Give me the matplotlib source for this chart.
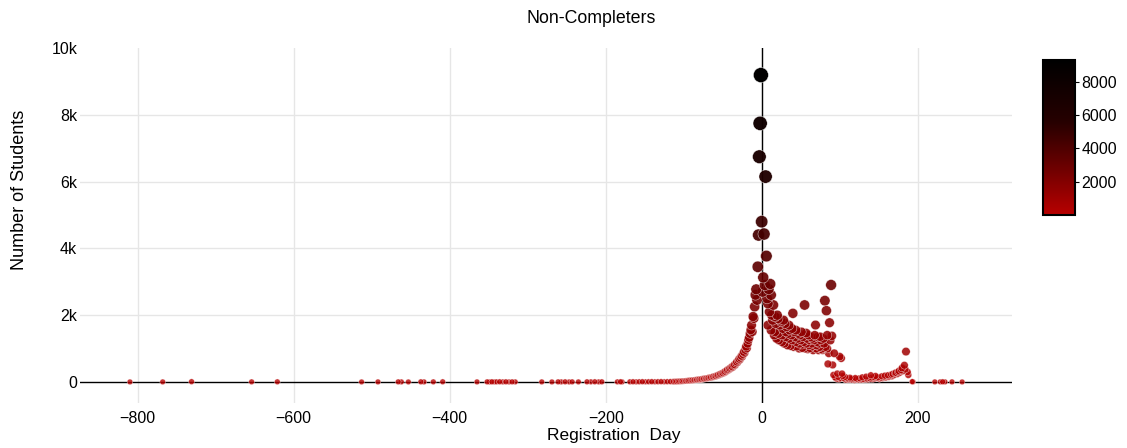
import numpy as np
import matplotlib
matplotlib.use("Agg")
import matplotlib.pyplot as plt
from matplotlib.colors import LinearSegmentedColormap, Normalize

plt.rcParams["font.family"] = ["Liberation Sans", "DejaVu Sans"]

# registration day vs number of non-completing students
far_days = [-810, -768, -731, -654, -621, -513, -492, -466, -462, -453, -437, -433,
            -421, -409, -365, -352, -349, -346, -343, -340, -336, -332, -328, -324,
            -320, -316, -282, -269, -261, -257, -252, -247, -243, -235, -224, -219,
            -214, -209, -205, -185, -181, -179, -169, -165, -161, -157, -153, -149,
            -145, -141, -137, -133, -129, -125, -121, -117, -114]
far_counts = [2, 3, 9, 4, 5, 2, 3, 4, 3, 2, 5, 3,
              4, 6, 3, 4, 2, 5, 3, 4, 6, 3, 5, 2,
              4, 3, 3, 2, 4, 3, 5, 2, 4, 3, 5, 4,
              6, 3, 5, 4, 6, 3, 5, 7, 4, 6, 8, 5,
              7, 9, 6, 8, 10, 7, 9, 11, 10]

ramp_days = list(range(-113, 0))
ramp_counts = [12, 9, 14, 11, 15, 13, 18, 16, 20, 17, 22, 25, 21, 28, 26, 30,
               33, 29, 36, 40, 38, 44, 41, 48, 52, 47, 55, 60, 57, 63, 68, 65,
               72, 78, 74, 82, 88, 85, 93, 98, 95, 104, 110, 106, 118, 125, 121,
               132, 140, 137, 150, 162, 155, 170, 182, 176, 195, 210, 202, 225,
               240, 232, 255, 270, 262, 290, 315, 300, 340, 365, 350, 380, 410,
               395, 430, 460, 440, 490, 520, 505, 560, 600, 585, 640, 690, 665,
               720, 780, 760, 830, 900, 870, 960, 1060, 1010, 1150, 1260, 1330,
               1450, 1560, 1700, 1505, 1960, 1905, 2255, 2610, 2775, 2455, 3450,
               4400, 6745, 7745, 9190]

peak_days = list(range(0, 103))
peak_counts = [4800, 2700, 3130, 4430, 2900, 6150, 3770, 2500, 2350, 2780,
               2100, 2935, 2605, 2000, 1850, 2305, 1400, 1950, 1750, 1300,
               2000, 1900, 1250, 1700, 1850, 1800, 1200, 1600, 1850, 1150,
               1750, 1500, 1650, 1100, 1450, 1700, 1550, 1080, 1400, 1600,
               2055, 1050, 1500, 1350, 1550, 1060, 1300, 1450, 1000, 1400,
               1250, 1500, 1020, 1350, 1200, 2305, 1000, 1465, 1300, 980,
               1400, 1250, 1015, 1350, 1150, 1300, 950, 1250, 1400, 1705,
               1000, 1200, 1350, 950, 1150, 1355, 1250, 980, 955, 1300,
               1150, 2435, 1050, 2135, 1400, 540, 860, 1775, 1250, 2905,
               1380, 510, 210, 860, 140, 120, 90, 250, 150, 80,
               760, 110, 710]

# second layer of the post-start cluster (repeat presentations)
extra_days = [8, 12, 17, 21, 26, 31, 35, 39, 44, 48, 52, 57, 61, 65, 70, 74, 79, 84]
extra_counts = [1700, 1550, 1500, 1450, 1400, 1350, 1300, 1250, 1200, 1150,
                1120, 1150, 1100, 1080, 1100, 1050, 1020, 1000]

tail_days = [103, 104, 105, 106, 107, 108, 109, 110, 112, 113, 114, 115, 116, 118,
             119, 120, 121, 122, 124, 125, 126, 128, 129, 130, 131, 133, 134, 135,
             136, 138, 139, 140, 141, 142, 144, 145, 146, 148, 149, 150, 151, 153,
             154, 155, 157, 158, 159, 160, 162, 163, 164, 166, 167, 168, 170, 171,
             172, 174, 175, 176, 177, 179, 180, 181, 183, 184, 185, 187, 188, 193,
             194, 222, 229, 232, 235, 244, 257]
tail_counts = [250, 180, 120, 90, 150, 60, 110, 80, 70, 130, 90, 60, 100, 80,
               50, 120, 70, 90, 60, 110, 80, 60, 140, 90, 70, 80, 160, 100,
               70, 120, 90, 200, 130, 80, 150, 100, 180, 120, 140, 110, 90, 130,
               170, 110, 150, 190, 130, 170, 200, 150, 190, 220, 170, 240, 210, 260,
               280, 240, 300, 330, 280, 360, 420, 330, 500, 380, 910, 300, 210, 10,
               5, 3, 4, 6, 3, 4, 2]

days = np.array(far_days + ramp_days + peak_days + extra_days + tail_days)
counts = np.array(far_counts + ramp_counts + peak_counts + extra_counts + tail_counts)

order = np.argsort(counts, kind="stable")
days, counts = days[order], counts[order]

cmap = LinearSegmentedColormap.from_list(
    "redblack", [(0, "#b80000"), (0.3, "#6e0000"), (0.6, "#260000"), (1, "#000000")])
norm = Normalize(vmin=0, vmax=9300)

# marker diameter in px grows with the count, big ones drawn more opaque
diam = 5.5 + 9.5 * np.sqrt(counts / 9200)
sizes = (diam * 0.72) ** 2
alphas = 0.78 + 0.22 * np.sqrt(counts / 9200)

fig = plt.figure(figsize=(11.27, 4.48), dpi=100)
ax = fig.add_axes([0.071, 0.1004, 0.827, 0.7924])

ax.axhline(0, color="black", lw=1, zorder=2)
ax.axvline(0, color="black", lw=1, zorder=2)
ax.scatter(days, counts, c=counts, cmap=cmap, norm=norm, s=sizes, alpha=alphas,
           edgecolors="white", linewidths=0.3, zorder=3)

ax.set_xlim(-874, 321)
ax.set_ylim(-630, 10000)
ax.set_xticks([-800, -600, -400, -200, 0, 200])
ax.set_yticks([0, 2000, 4000, 6000, 8000, 10000])
ax.set_yticklabels(["0", "2k", "4k", "6k", "8k", "10k"])
ax.grid(True, color="#e6e6e6", lw=1, zorder=0)
ax.yaxis.get_gridlines()[0].set_visible(False)
ax.yaxis.get_gridlines()[-1].set_visible(False)
for s in ax.spines.values():
    s.set_visible(False)
ax.tick_params(length=0, labelsize=11.5)
ax.tick_params(axis="y", pad=2)
ax.tick_params(axis="x", pad=6)

fig.text(0.545, 0.027, "Registration  Day", ha="center", va="center", fontsize=12.5)
fig.text(0.017, 0.576, "Number of Students", ha="center", va="center",
         rotation=90, fontsize=13)
fig.text(0.525, 0.958, "Non-Completers", ha="center", va="center", fontsize=12.8)

cax = fig.add_axes([0.9255, 0.52, 0.028, 0.346])
sm = plt.cm.ScalarMappable(norm=norm, cmap=cmap)
cb = fig.colorbar(sm, cax=cax, ticks=[2000, 4000, 6000, 8000])
cb.outline.set_linewidth(1.5)
cb.ax.tick_params(labelsize=11.5, length=3, pad=2)

fig.savefig("out.png", dpi=100)
